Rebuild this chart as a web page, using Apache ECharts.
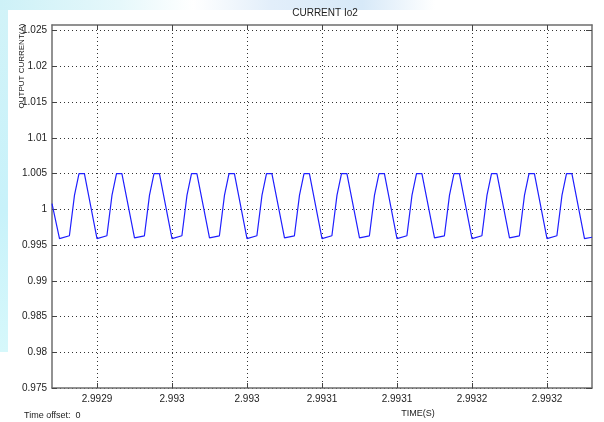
<!DOCTYPE html>
<html><head><meta charset="utf-8">
<script src="https://cdn.jsdelivr.net/npm/echarts@6/dist/echarts.min.js"></script>
<style>
html,body{margin:0;padding:0;background:#fff;}
#wrap{position:relative;width:604px;height:422px;overflow:hidden;background:#fff;}
#bgL{position:absolute;left:0;top:0;width:8px;height:352px;background:linear-gradient(180deg,#d2f3f8,#c8f2fa 60%,#d6f8fb);}
#bgT{position:absolute;left:0;top:0;width:604px;height:10px;background:linear-gradient(90deg,#cdf1f7 0%,#e6f8fb 20%,#ffffff 32%,#e2eefa 45%,#d7e9f8 60%,#ffffff 72%);}
#chart{position:absolute;left:0;top:0;width:604px;height:422px;}
</style></head>
<body><div id="wrap"><div id="bgL"></div><div id="bgT"></div><div id="chart"></div></div>
<script>
const timeValues = [
  2.9928700,
  2.9928750, 2.9928816, 2.9928850, 2.9928880, 2.9928916,
  2.9929000, 2.9929066, 2.9929100, 2.9929130, 2.9929166,
  2.9929250, 2.9929316, 2.9929350, 2.9929380, 2.9929416,
  2.9929500, 2.9929566, 2.9929600, 2.9929630, 2.9929666,
  2.9929750, 2.9929816, 2.9929850, 2.9929880, 2.9929916,
  2.9930000, 2.9930066, 2.9930100, 2.9930130, 2.9930166,
  2.9930250, 2.9930316, 2.9930350, 2.9930380, 2.9930416,
  2.9930500, 2.9930566, 2.9930600, 2.9930630, 2.9930666,
  2.9930750, 2.9930816, 2.9930850, 2.9930880, 2.9930916,
  2.9931000, 2.9931066, 2.9931100, 2.9931130, 2.9931166,
  2.9931250, 2.9931316, 2.9931350, 2.9931380, 2.9931416,
  2.9931500, 2.9931566, 2.9931600, 2.9931630, 2.9931666,
  2.9931750, 2.9931816, 2.9931850, 2.9931880, 2.9931916,
  2.9932000, 2.9932066, 2.9932100, 2.9932130, 2.9932166,
  2.9932250,
  2.9932300
];
const currentValues = [
  1.0008,
  0.9959, 0.9963, 1.0020, 1.0050, 1.0050,
  0.9959, 0.9963, 1.0020, 1.0050, 1.0050,
  0.9960, 0.9963, 1.0020, 1.0050, 1.0050,
  0.9959, 0.9963, 1.0020, 1.0050, 1.0050,
  0.9960, 0.9963, 1.0020, 1.0050, 1.0050,
  0.9959, 0.9963, 1.0020, 1.0050, 1.0050,
  0.9960, 0.9963, 1.0020, 1.0050, 1.0050,
  0.9959, 0.9963, 1.0020, 1.0050, 1.0050,
  0.9960, 0.9963, 1.0020, 1.0050, 1.0050,
  0.9959, 0.9963, 1.0020, 1.0050, 1.0050,
  0.9960, 0.9963, 1.0020, 1.0050, 1.0050,
  0.9959, 0.9963, 1.0020, 1.0050, 1.0050,
  0.9960, 0.9963, 1.0020, 1.0050, 1.0050,
  0.9959, 0.9963, 1.0020, 1.0050, 1.0050,
  0.9959,
  0.9961
];
const xTickValues = [2.99290, 2.99295, 2.99300, 2.99305, 2.99310, 2.99315, 2.99320];
const xTickLabels = ['2.9929', '2.993', '2.993', '2.9931', '2.9931', '2.9932', '2.9932'];
const yTickValues = [0.975, 0.98, 0.985, 0.99, 0.995, 1, 1.005, 1.01, 1.015, 1.02, 1.025];
const yTickLabels = ['0.975', '0.98', '0.985', '0.99', '0.995', '1', '1.005', '1.01', '1.015', '1.02', '1.025'];
const xMin = 2.99287, xMax = 2.99323;
const yMin = 0.975, yMax = 1.0258;

const FONT = 'Liberation Sans, Arial, sans-serif';
function lookup(vals, labels, v) {
  for (let i = 0; i < vals.length; i++) if (Math.abs(vals[i] - v) < 1e-9) return labels[i];
  return '';
}
const axisLine = { show: true, lineStyle: { color: '#6e6e6e', width: 1.5 } };
const grid = { type: [1, 3], color: '#333', width: 1 };

const chart = echarts.init(document.getElementById('chart'), null, { renderer: 'canvas' });
chart.setOption({
  backgroundColor: 'transparent',
  animation: false,
  title: [
    { text: 'CURRENT Io2', left: 325, top: 8, padding: 0, textAlign: 'center',
      textStyle: { fontSize: 10, fontWeight: 'normal', color: '#222', fontFamily: FONT } },
    { text: 'TIME(S)', left: 418, top: 409, padding: 0, textAlign: 'center',
      textStyle: { fontSize: 9, fontWeight: 'normal', color: '#222', fontFamily: FONT } },
    { text: 'Time offset:  0', left: 24, top: 411, padding: 0,
      textStyle: { fontSize: 9, fontWeight: 'normal', color: '#222', fontFamily: FONT } }
  ],
  graphic: [
    { type: 'text', x: 22, y: 66, rotation: Math.PI / 2,
      style: { text: 'OUTPUT CURRENT(A)', fontSize: 8, fontFamily: FONT, fill: '#222',
               align: 'center', verticalAlign: 'middle' } }
  ],
  grid: { left: 52, right: 12, top: 25, bottom: 34, containLabel: false },
  xAxis: [
    { type: 'value', position: 'bottom', min: xMin, max: xMax,
      axisLine: axisLine,
      axisTick: { show: true, inside: true, length: 5, customValues: xTickValues, lineStyle: { color: '#444' } },
      axisLabel: { show: true, customValues: xTickValues, margin: 6, fontSize: 10, color: '#222', fontFamily: FONT,
                   formatter: v => lookup(xTickValues, xTickLabels, v) },
      splitLine: { show: true, lineStyle: grid } },
    { type: 'value', position: 'top', min: xMin, max: xMax,
      axisLine: axisLine,
      axisTick: { show: true, inside: true, length: 5, customValues: xTickValues, lineStyle: { color: '#444' } },
      axisLabel: { show: false },
      splitLine: { show: false } }
  ],
  yAxis: [
    { type: 'value', position: 'left', min: yMin, max: yMax,
      axisLine: axisLine,
      axisTick: { show: true, inside: true, length: 5, customValues: yTickValues, lineStyle: { color: '#444' } },
      axisLabel: { show: true, customValues: yTickValues, margin: 5, fontSize: 10, color: '#222', fontFamily: FONT,
                   formatter: v => lookup(yTickValues, yTickLabels, v) },
      splitLine: { show: true, lineStyle: grid } },
    { type: 'value', position: 'right', min: yMin, max: yMax,
      axisLine: axisLine,
      axisTick: { show: true, inside: true, length: 6, customValues: yTickValues, lineStyle: { color: '#444' } },
      axisLabel: { show: false },
      splitLine: { show: false } }
  ],
  series: [{
    type: 'line',
    xAxisIndex: 0, yAxisIndex: 0,
    data: timeValues.map((t, i) => [t, currentValues[i]]),
    showSymbol: false,
    lineStyle: { color: '#1f1fff', width: 1.2 },
    clip: true
  }]
});
</script></body></html>
